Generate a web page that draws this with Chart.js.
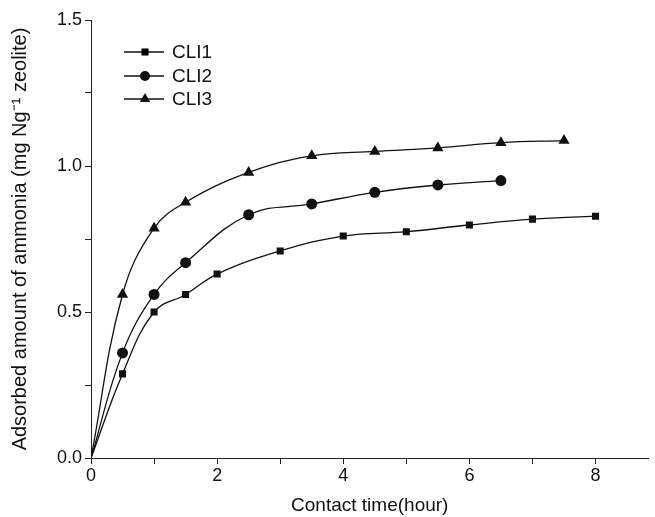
<!DOCTYPE html>
<html lang="en">
  <head>
    <meta charset="UTF-8" />
    <title>Ammonia adsorption</title>
    <script src="https://cdn.jsdelivr.net/npm/chart.js@4"></script>
    <style>
      html, body { margin: 0; padding: 0; background: #fff; }
      #wrap { width: 655px; height: 517px; }
    </style>
  </head>
  <body>
    <div id="wrap"><canvas id="myChart"></canvas></div>
    <script>
      // values
      const timeCLI1 = [0, 0.5, 1, 1.5, 2, 3, 4, 5, 6, 7, 8];
      const cli1 = [0, 0.288, 0.50, 0.56, 0.63, 0.709, 0.76, 0.775, 0.798, 0.818, 0.828];
      const timeCLI2 = [0, 0.5, 1, 1.5, 2.5, 3.5, 4.5, 5.5, 6.5];
      const cli2 = [0, 0.36, 0.56, 0.669, 0.833, 0.87, 0.91, 0.935, 0.95];
      const timeCLI3 = [0, 0.5, 1, 1.5, 2.5, 3.5, 4.5, 5.5, 6.5, 7.5];
      const cli3 = [0, 0.56, 0.787, 0.876, 0.978, 1.035, 1.05, 1.062, 1.08, 1.087];
      const xTicks = [0, 1, 2, 3, 4, 5, 6, 7, 8];
      const yTicks = [0, 0.25, 0.5, 0.75, 1.0, 1.25, 1.5];
      const X_MAX = 8.84;

      const FONT = "'Liberation Sans', Arial, sans-serif";

      function pts(xs, ys) {
        return xs.map((x, i) => ({ x: x, y: ys[i] }));
      }

      function series(label, xs, ys, style, r) {
        return {
          label: label,
          data: pts(xs, ys),
          borderColor: "#111",
          backgroundColor: "#111",
          borderWidth: 1.3,
          pointStyle: style,
          pointRadius: xs.map((x) => (x === 0 ? 0 : r)),
          pointBorderWidth: 0,
          tension: 0.4,
          showLine: true,
        };
      }

      // legend drawn like the original: —■— CLI1
      const lineLegend = {
        id: "lineLegend",
        afterDraw(chart) {
          const c = chart.ctx;
          const rows = [52, 76, 99];
          c.save();
          chart.data.datasets.forEach((ds, i) => {
            const y = rows[i];
            c.strokeStyle = "#111";
            c.lineWidth = 1.3;
            c.beginPath();
            c.moveTo(124, y);
            c.lineTo(164, y);
            c.stroke();
            const r = i === 2 ? 6 : 5;
            Chart.helpers.drawPoint(c, { pointStyle: ds.pointStyle, radius: r, borderWidth: 0 }, 145, y);
            c.fillStyle = "#111";
            c.font = "19px " + FONT;
            c.textBaseline = "middle";
            c.fillText(ds.label, 172, y + 1);
          });
          c.restore();
        },
      };

      const ctx = document.getElementById("myChart");
      new Chart(ctx, {
        type: "scatter",
        data: {
          datasets: [
            series("CLI1", timeCLI1, cli1, "rect", 5),
            series("CLI2", timeCLI2, cli2, "circle", 5.5),
            series("CLI3", timeCLI3, cli3, "triangle", 6.5),
          ],
        },
        options: {
          responsive: true,
          maintainAspectRatio: false,
          animation: false,
          layout: { padding: { top: 20, right: 0, left: 8, bottom: 0 } },
          plugins: { legend: { display: false }, tooltip: { enabled: false } },
          scales: {
            x: {
              type: "linear",
              min: 0,
              max: X_MAX,
              afterBuildTicks: (s) => { s.ticks = xTicks.map((v) => ({ value: v })); },
              afterFit: (s) => { s.height = 59; },
              border: { color: "#222", width: 1 },
              grid: { drawOnChartArea: false, tickLength: 6, color: "#222" },
              ticks: {
                color: "#111",
                padding: 1,
                maxRotation: 0,
                font: { family: FONT, size: 18 },
                callback: (v) => (v % 2 === 0 ? v : ""),
              },
              title: {
                display: true,
                text: "Contact time(hour)",
                color: "#111",
                font: { family: FONT, size: 19 },
                padding: { top: 0, bottom: 0 },
              },
            },
            y: {
              min: 0,
              max: 1.5,
              afterBuildTicks: (s) => { s.ticks = yTicks.map((v) => ({ value: v })); },
              afterFit: (s) => { s.width = 83; },
              border: { color: "#222", width: 1 },
              grid: { drawOnChartArea: false, tickLength: 6, color: "#222" },
              ticks: {
                color: "#111",
                padding: 3,
                font: { family: FONT, size: 18 },
                callback: (v) => (Math.abs(v * 2 - Math.round(v * 2)) < 1e-6 ? v.toFixed(1) : ""),
              },
              title: {
                display: true,
                text: "Adsorbed amount of ammonia (mg Ng\u207B\u00B9 zeolite)",
                color: "#111",
                font: { family: FONT, size: 20 },
                padding: { top: 0, bottom: 2 },
              },
            },
          },
        },
        plugins: [lineLegend],
      });
    </script>
  </body>
</html>
